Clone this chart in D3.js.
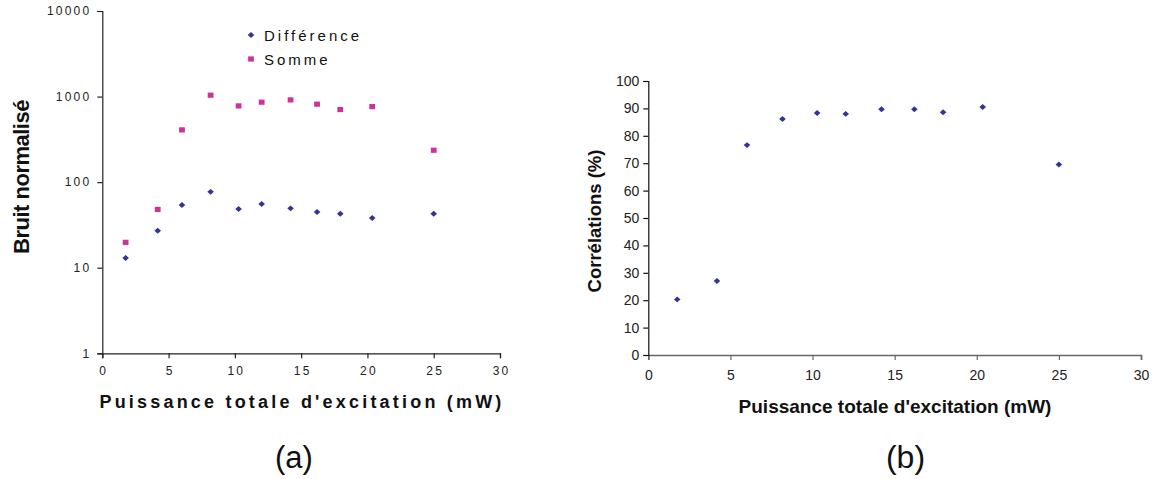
<!DOCTYPE html>
<html><head><meta charset="utf-8">
<script src="https://cdn.jsdelivr.net/npm/d3@7"></script>
<style>body{margin:0;background:#fff}svg{display:block}text{font-family:"Liberation Sans",Arial,sans-serif}</style>
</head><body>
<svg id="c" width="1157" height="479"></svg>
<script>
const power = [1.76, 4.18, 6.01, 8.17, 10.28, 12.02, 14.2, 16.2, 17.95, 20.36, 25.0];
const difference = [13, 27, 54, 77, 48.5, 55.5, 49.4, 44.8, 42.8, 38.1, 42.8];
const somme = [19.8, 48, 408, 1038, 778, 860, 915, 815, 705, 764, 236];
const correlations = [20.3, 27.0, 76.6, 86.1, 88.3, 88.0, 89.7, 89.7, 88.6, 90.5, 69.5];
const xTicks = [0, 5, 10, 15, 20, 25, 30];
const logTicks = [1, 10, 100, 1000, 10000];
const linTicks = [0, 10, 20, 30, 40, 50, 60, 70, 80, 90, 100];
const seriesNames = ["Différence", "Somme"];
const xTitle = "Puissance totale d'excitation (mW)";

const svg = d3.select("#c");
const blue = "#333399", pink = "#CC3399";
const flatDiamond = { draw(ctx, size) { const w = Math.sqrt(size) * 0.72, h = w * 0.9;
  ctx.moveTo(0, -h); ctx.lineTo(w, 0); ctx.lineTo(0, h); ctx.lineTo(-w, 0); ctx.closePath(); } };
const diamond = d3.symbol().type(flatDiamond).size(21);

// ---------- Left chart (a) ----------
const xa = d3.scaleLinear().domain([0, 30]).range([102.3, 500]);
const ya = d3.scaleLog().domain([1, 10000]).range([353.3, 11]);
const ga = svg.append("g");
const axA = ga.append("g").attr("transform", "translate(0,353.3)")
  .call(d3.axisBottom(xa).tickValues(xTicks).tickSize(5).tickPadding(8).tickFormat(d3.format("d")));
const ayA = ga.append("g").attr("transform", "translate(102.3,0)")
  .call(d3.axisLeft(ya).tickValues(logTicks).tickSize(5).tickPadding(8).tickFormat(d3.format("d")));
[axA, ayA].forEach(a => {
  a.select(".domain").attr("stroke", "#222").attr("stroke-width", 1.2);
  a.selectAll(".tick line").attr("stroke", "#222").attr("stroke-width", 1.2);
  a.selectAll("text").attr("font-size", 12).attr("fill", "#222").style("letter-spacing", "2.2px")
    .attr("font-family", "Liberation Sans, Arial, sans-serif");
});
ayA.selectAll("text").attr("dx", "2px");
axA.selectAll("text").attr("dx", "1px");

ga.selectAll(".dA").data(power).enter().append("path")
  .attr("d", diamond).attr("fill", blue)
  .attr("transform", (d, i) => `translate(${xa(d)},${ya(difference[i])})`);
ga.selectAll(".sA").data(power).enter().append("rect")
  .attr("x", d => xa(d) - 2.9).attr("y", (d, i) => ya(somme[i]) - 2.6)
  .attr("width", 5.8).attr("height", 5.2).attr("fill", pink);

// legend
const lg = ga.append("g");
lg.append("path").attr("d", diamond).attr("fill", blue).attr("transform", "translate(251,35)");
lg.append("rect").attr("x", 248.1).attr("y", 56.4).attr("width", 5.8).attr("height", 5.2).attr("fill", pink);
lg.selectAll("text").data(seriesNames).enter().append("text")
  .attr("x", 264).attr("y", (d, i) => 41 + i * 24)
  .attr("font-size", 15).style("letter-spacing", "3px").attr("fill", "#111").text(d => d);

ga.append("text").attr("x", 302).attr("y", 408).attr("text-anchor", "middle")
  .attr("font-size", 18).attr("font-weight", "bold").style("letter-spacing", "3.2px").attr("fill", "#111")
  .text(xTitle);
ga.append("text").attr("transform", "translate(29,177) rotate(-90)").attr("text-anchor", "middle")
  .attr("font-size", 22).attr("font-weight", "bold").style("letter-spacing", "-0.5px").attr("fill", "#111")
  .text("Bruit normalisé");
ga.append("text").attr("x", 294).attr("y", 468).attr("text-anchor", "middle")
  .attr("font-size", 31).attr("fill", "#111").text("(a)");

// ---------- Right chart (b) ----------
const xb = d3.scaleLinear().domain([0, 30]).range([648.3, 1141]);
const yb = d3.scaleLinear().domain([0, 100]).range([355, 81]);
const gb = svg.append("g");
const axB = gb.append("g").attr("transform", "translate(0,355)")
  .call(d3.axisBottom(xb).tickValues(xTicks).tickSize(5).tickPadding(10).tickFormat(d3.format("d")));
const ayB = gb.append("g").attr("transform", "translate(648.3,0)")
  .call(d3.axisLeft(yb).tickValues(linTicks).tickSize(5).tickPadding(4).tickFormat(d3.format("d")));
axB.select(".domain").attr("stroke", "#666").attr("stroke-width", 1.6);
axB.selectAll(".tick line").attr("stroke", "#666").attr("stroke-width", 1.2);
ayB.select(".domain").attr("stroke", "#111").attr("stroke-width", 1.2);
ayB.selectAll(".tick line").attr("stroke", "#111").attr("stroke-width", 1.2);
[axB, ayB].forEach(a => a.selectAll("text").attr("font-size", 14).attr("fill", "#222")
  .attr("font-family", "Liberation Sans, Arial, sans-serif"));

gb.selectAll(".dB").data(power).enter().append("path")
  .attr("d", diamond).attr("fill", blue)
  .attr("transform", (d, i) => `translate(${xb(d)},${yb(correlations[i])})`);

gb.append("text").attr("x", 895).attr("y", 413).attr("text-anchor", "middle")
  .attr("font-size", 19).attr("font-weight", "bold").attr("fill", "#111").text(xTitle);
gb.append("text").attr("transform", "translate(601,221) rotate(-90)").attr("text-anchor", "middle")
  .attr("font-size", 18.5).attr("font-weight", "bold").attr("fill", "#111").text("Corrélations (%)");
gb.append("text").attr("x", 905.5).attr("y", 468).attr("text-anchor", "middle")
  .attr("font-size", 32).attr("fill", "#111").text("(b)");
</script>
</body></html>
